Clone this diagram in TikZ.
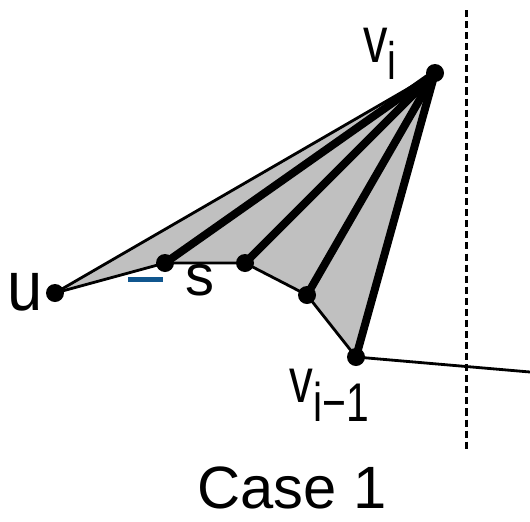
\documentclass[tikz,border=0pt]{standalone}
\usepackage{fontspec}
\setmainfont{Liberation Sans}
\usepackage{graphicx}
\definecolor{fillgray}{RGB}{192,192,192}
\definecolor{markblue}{RGB}{16,86,142}
\pgfdeclarelayer{background}
\pgfsetlayers{background,main}
\begin{document}
\begin{tikzpicture}[x=0.02cm,y=-0.02cm,
  dot/.style={circle,fill=black,inner sep=0pt,minimum size=0.36cm},
  thinedge/.style={line width=1.6pt,line join=round},
  thickedge/.style={line width=4.5pt,line cap=round},
  lbl/.style={inner sep=0pt,anchor=base west},
  guide/.style={line width=1.7pt,dash pattern=on 4pt off 2.3pt}]
\useasboundingbox (0,0) rectangle (530,521);
% vertices
\node[dot] (u)   at (55,293)  {};
\node[dot] (vi)  at (435,73)  {};
\node[dot] (s)   at (165,263) {};
\node[dot] (a)   at (245,263) {};
\node[dot] (b)   at (307,295) {};
\node[dot] (vim) at (356,357) {};
\coordinate (e) at (530,372);
\coordinate (dtop) at (466,10);
\coordinate (dbot) at (466,452);
\coordinate (bl) at (128,279.5);
\coordinate (br) at (163,279.5);
\begin{pgfonlayer}{background}
\fill[fillgray] (u.center) -- (vi.center) -- (vim.center) -- (b.center) -- (a.center) -- (s.center) -- cycle;
\draw[thinedge] (u.center) -- (vi.center);
\draw[thinedge] (u.center) -- (s.center) -- (a.center) -- (b.center) -- (vim.center) -- (e);
\foreach \t in {s,a,b,vim} \draw[thickedge] (vi.center) -- (\t.center);
\end{pgfonlayer}
\draw[guide] (dtop) -- (dbot);
\draw[markblue,line width=2.8pt] (bl) -- (br);
% labels
\node[lbl] (ulbl) at (7.5,310) {\scalebox{0.9}[1]{\fontsize{40}{40}\selectfont u}};
\node[lbl] (slbl) at (185,295) {\fontsize{33}{33}\selectfont s};
\node[lbl] (vilbl) at (363,62) {\scalebox{0.75}[1]{\fontsize{37}{37}\selectfont v\raisebox{-10.2pt}{\fontsize{30}{30}\selectfont i}}};
\node[lbl] (vimlbl) at (289,402) {\scalebox{0.75}[1]{\fontsize{36}{36}\selectfont v\raisebox{-11.3pt}{\fontsize{31}{31}\selectfont i−1}}};
\node[anchor=base,inner sep=0pt] (cap) at (292,508) {\fontsize{34}{34}\selectfont Case 1};
\end{tikzpicture}
\end{document}
